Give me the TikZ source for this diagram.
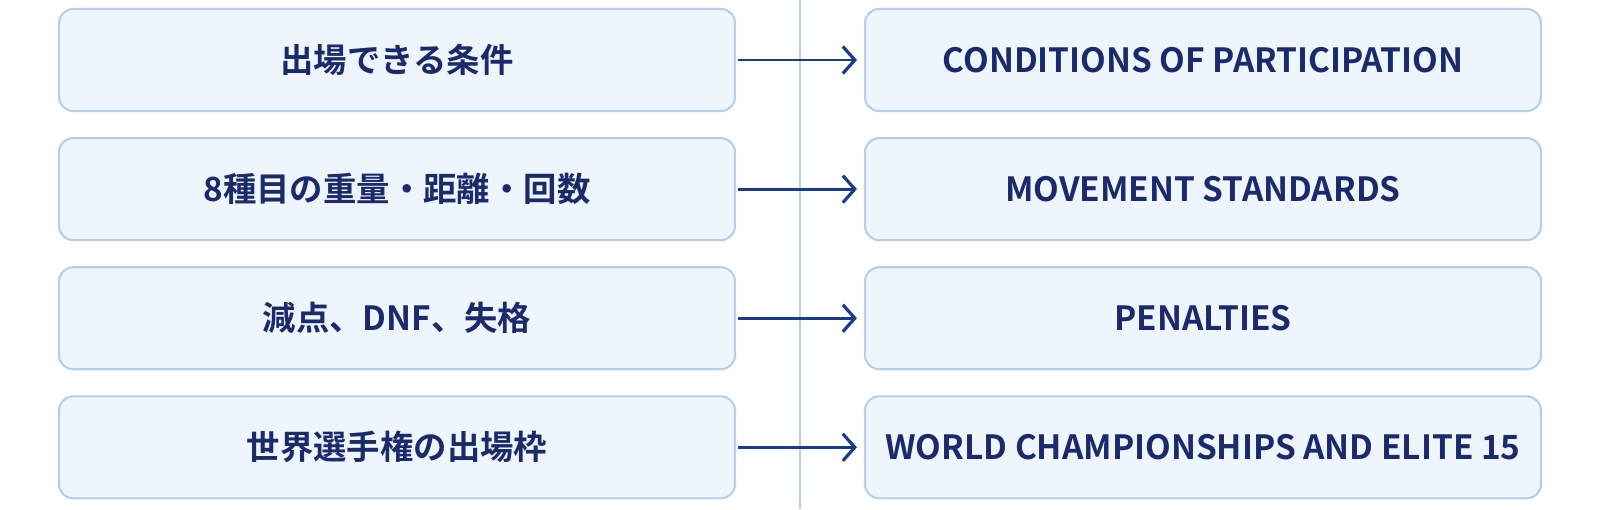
\documentclass[tikz,border=0pt]{standalone}
\usepackage{fontspec}
\setmainfont{Noto Sans CJK JP}[BoldFont={* Bold}]
\usetikzlibrary{arrows.meta, positioning}
\definecolor{navy}{HTML}{1B2A6B}
\definecolor{boxfill}{HTML}{EEF5FD}
\definecolor{boxline}{HTML}{B5CFEC}
\definecolor{arrowblue}{HTML}{1A3A8E}
\tikzset{
	item/.style = {draw=boxline, fill=boxfill, line width=1.2pt, rounded corners=8pt,
		minimum width=13.52cm, minimum height=2.04cm, inner sep=0pt,
		font=\fontsize{19}{22}\selectfont\bfseries, text=navy},
	link/.style = {draw=arrowblue, line width=1.7pt, -{Straight Barb[length=2.4mm,width=5.4mm,line width=1.8pt]}}
}
\begin{document}
\begin{tikzpicture}
	\useasboundingbox (0,0) rectangle (32,10.18);
	\draw [boxline, line width=1pt] (16,0) -- (16,10.18);
	
	\node [item] (jp1) at (7.94,8.98) {出場できる条件};
	\node [item, below=0.5cm of jp1] (jp2) {8種目の重量・距離・回数};
	\node [item, below=0.5cm of jp2] (jp3) {減点、DNF、失格};
	\node [item, below=0.5cm of jp3] (jp4) {世界選手権の出場枠};
	
	\node [item] (en1) at (24.06,8.98) {CONDITIONS OF PARTICIPATION};
	\node [item, below=0.5cm of en1] (en2) {MOVEMENT STANDARDS};
	\node [item, below=0.5cm of en2] (en3) {PENALTIES};
	\node [item, below=0.5cm of en3] (en4) {WORLD CHAMPIONSHIPS AND ELITE 15};
	
	\foreach \i in {1,...,4}
		\draw [link] ([xshift=0.04cm]jp\i.east) -- ([xshift=-0.14cm]en\i.west);
\end{tikzpicture}
\end{document}
